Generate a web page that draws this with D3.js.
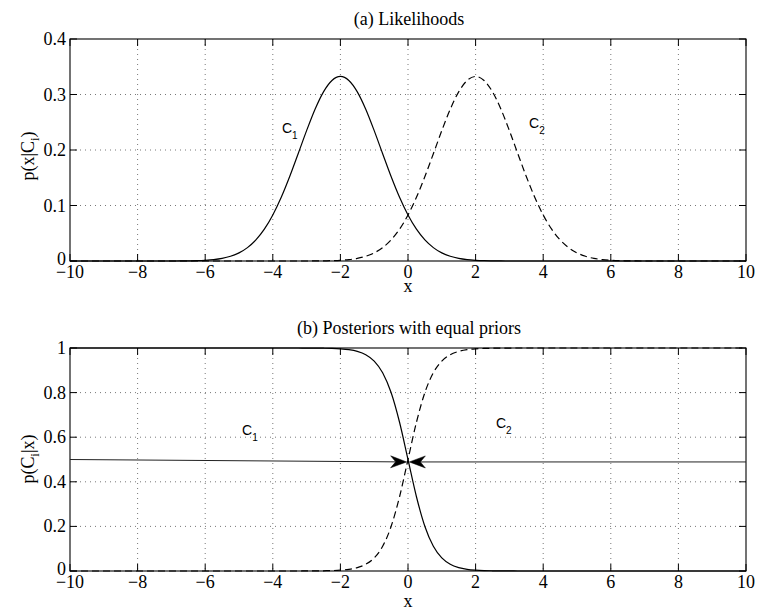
<!DOCTYPE html>
<html>
<head>
<meta charset="utf-8">
<script src="https://cdn.jsdelivr.net/npm/d3@7"></script>
<style>
html,body{margin:0;padding:0;background:#fff;}
svg{display:block;}
</style>
</head>
<body>
<svg id="chart" width="757" height="610"></svg>
<script>
// ---- data ----
const xs = [-10, -9, -8, -7.5,
  -7, -6.75, -6.5, -6.25, -6, -5.75, -5.5, -5.25, -5, -4.75, -4.5, -4.25, -4, -3.75, -3.5, -3.25,
  -3, -2.75, -2.5, -2.25, -2, -1.75, -1.5, -1.25, -1, -0.75, -0.5, -0.25, 0, 0.25, 0.5, 0.75,
  1, 1.25, 1.5, 1.75, 2, 2.25, 2.5, 2.75, 3, 3.25, 3.5, 3.75, 4, 4.25, 4.5, 4.75, 5, 5.25, 5.5, 5.75,
  6, 6.25, 6.5, 6.75, 7,
  7.5, 8, 9, 10];

const likelihoodC1 = [0, 0, 0, 0, 0,
  0.0001, 0.0003, 0.0006, 0.0013, 0.0025, 0.0047, 0.0085, 0.0146, 0.0241, 0.0380, 0.0573, 0.0829,
  0.1148, 0.1522, 0.1933, 0.2349, 0.2735, 0.3048, 0.3253, 0.3325, 0.3253, 0.3048, 0.2735, 0.2349,
  0.1933, 0.1522, 0.1148, 0.0829, 0.0573, 0.0380, 0.0241, 0.0146, 0.0085, 0.0047, 0.0025, 0.0013,
  0.0006, 0.0003, 0.0001,
  0, 0, 0, 0, 0, 0, 0, 0, 0, 0, 0, 0, 0, 0, 0, 0, 0, 0, 0, 0, 0];

const likelihoodC2 = [0, 0, 0, 0, 0, 0, 0, 0, 0, 0, 0, 0, 0, 0, 0, 0, 0, 0, 0, 0, 0,
  0.0001, 0.0003, 0.0006, 0.0013, 0.0025, 0.0047, 0.0085, 0.0146, 0.0241, 0.0380, 0.0573, 0.0829,
  0.1148, 0.1522, 0.1933, 0.2349, 0.2735, 0.3048, 0.3253, 0.3325, 0.3253, 0.3048, 0.2735, 0.2349,
  0.1933, 0.1522, 0.1148, 0.0829, 0.0573, 0.0380, 0.0241, 0.0146, 0.0085, 0.0047, 0.0025, 0.0013,
  0.0006, 0.0003, 0.0001,
  0, 0, 0, 0, 0];

const posteriorC1 = [1, 1, 1, 1, 1, 1, 1, 1, 1, 1, 1, 1, 1, 1, 1, 1, 1, 1,
  0.9999, 0.9999, 0.9998, 0.9995, 0.9990, 0.9981, 0.9961, 0.9923, 0.9847, 0.9699, 0.9415, 0.8893,
  0.8004, 0.6670, 0.5000, 0.3330, 0.1996, 0.1107, 0.0585, 0.0301, 0.0153, 0.0077, 0.0039, 0.0019,
  0.0010, 0.0005, 0.0002, 0.0001, 0.0001,
  0, 0, 0, 0, 0, 0, 0, 0, 0, 0, 0, 0, 0, 0, 0, 0, 0, 0];

const posteriorC2 = [0, 0, 0, 0, 0, 0, 0, 0, 0, 0, 0, 0, 0, 0, 0, 0, 0, 0,
  0.0001, 0.0001, 0.0002, 0.0005, 0.0010, 0.0019, 0.0039, 0.0077, 0.0153, 0.0301, 0.0585, 0.1107,
  0.1996, 0.3330, 0.5000, 0.6670, 0.8004, 0.8893, 0.9415, 0.9699, 0.9847, 0.9923, 0.9961, 0.9981,
  0.9990, 0.9995, 0.9998, 0.9999, 0.9999,
  1, 1, 1, 1, 1, 1, 1, 1, 1, 1, 1, 1, 1, 1, 1, 1, 1, 1];

const xTicks = [-10, -8, -6, -4, -2, 0, 2, 4, 6, 8, 10];
const xTickLabels = ["\u221210", "\u22128", "\u22126", "\u22124", "\u22122", "0", "2", "4", "6", "8", "10"];
const yTicksTop = [0, 0.1, 0.2, 0.3, 0.4];
const yTickLabelsTop = ["0", "0.1", "0.2", "0.3", "0.4"];
const yTicksBottom = [0, 0.2, 0.4, 0.6, 0.8, 1];
const yTickLabelsBottom = ["0", "0.2", "0.4", "0.6", "0.8", "1"];

const titles = ["(a) Likelihoods", "(b) Posteriors with equal priors"];
const yLabels = [["p(x|C", "i", ")"], ["p(C", "i", "|x)"]];
const xLabel = "x";

// class labels: [panel, x, y, main, subscript]
const classLabels = [
  [0, -3.73, 0.2306, "C", "1"],
  [0, 3.58, 0.2396, "C", "2"],
  [1, -4.91, 0.61, "C", "1"],
  [1, 2.60, 0.641, "C", "2"]
];

// decision arrows in bottom panel: from [x,y] to [x,y]
const arrows = [
  {from: [-10, 0.5], to: [-0.04, 0.489]},
  {from: [10, 0.489], to: [0.04, 0.489]}
];

// ---- layout ----
const svg = d3.select("#chart");
const left = 70, right = 746;
const panels = [
  {top: 39, bottom: 261, domain: [0, 0.4], yTicks: yTicksTop, yLabels: yTickLabelsTop,
   series: [{v: likelihoodC1, dash: null}, {v: likelihoodC2, dash: "7,4"}], ylabelY: 156, xlabelY: 292},
  {top: 348, bottom: 571, domain: [0, 1], yTicks: yTicksBottom, yLabels: yTickLabelsBottom,
   series: [{v: posteriorC1, dash: null}, {v: posteriorC2, dash: "7,4"}], ylabelY: 459, xlabelY: 607}
];

const serif = "'Liberation Serif', 'Times New Roman', serif";
const sans = "'Liberation Sans', Arial, sans-serif";
const fs = 18;
const tickLen = 7;

panels.forEach((p, pi) => {
  const x = d3.scaleLinear().domain([-10, 10]).range([left, right]);
  const y = d3.scaleLinear().domain(p.domain).range([p.bottom, p.top]);
  p.x = x; p.y = y;
  const g = svg.append("g");

  // grid
  g.selectAll(".vgrid").data(xTicks.slice(1, -1)).enter().append("line")
    .attr("x1", d => x(d)).attr("x2", d => x(d))
    .attr("y1", p.top).attr("y2", p.bottom)
    .attr("stroke", "#555").attr("stroke-width", 0.8).attr("stroke-dasharray", "1,4");
  g.selectAll(".hgrid").data(p.yTicks.slice(1, -1)).enter().append("line")
    .attr("y1", d => y(d)).attr("y2", d => y(d))
    .attr("x1", left).attr("x2", right)
    .attr("stroke", "#555").attr("stroke-width", 0.8).attr("stroke-dasharray", "1,4");

  // curves
  const line = d3.line().x((d, i) => x(xs[i])).y(d => y(d)).curve(d3.curveMonotoneX);
  p.series.forEach(s => {
    g.append("path").attr("d", line(s.v))
      .attr("fill", "none").attr("stroke", "#000").attr("stroke-width", 1.2)
      .attr("stroke-dasharray", s.dash);
  });

  // frame
  g.append("rect").attr("x", left).attr("y", p.top)
    .attr("width", right - left).attr("height", p.bottom - p.top)
    .attr("fill", "none").attr("stroke", "#000").attr("stroke-width", 1.1);

  // ticks (inward, both sides)
  xTicks.forEach(t => {
    g.append("line").attr("x1", x(t)).attr("x2", x(t)).attr("y1", p.bottom).attr("y2", p.bottom - tickLen)
      .attr("stroke", "#000").attr("stroke-width", 1);
    g.append("line").attr("x1", x(t)).attr("x2", x(t)).attr("y1", p.top).attr("y2", p.top + tickLen)
      .attr("stroke", "#000").attr("stroke-width", 1);
  });
  p.yTicks.forEach(t => {
    g.append("line").attr("y1", y(t)).attr("y2", y(t)).attr("x1", left).attr("x2", left + tickLen)
      .attr("stroke", "#000").attr("stroke-width", 1);
    g.append("line").attr("y1", y(t)).attr("y2", y(t)).attr("x1", right).attr("x2", right - tickLen)
      .attr("stroke", "#000").attr("stroke-width", 1);
  });

  // tick labels
  g.selectAll(".xtl").data(xTicks).enter().append("text")
    .attr("x", d => x(d)).attr("y", p.bottom + 17)
    .attr("text-anchor", "middle").attr("font-family", serif).attr("font-size", fs)
    .text((d, i) => xTickLabels[i]);
  g.selectAll(".ytl").data(p.yTicks).enter().append("text")
    .attr("x", left - 4).attr("y", d => y(d) + (d === p.domain[0] ? 4 : 6))
    .attr("text-anchor", "end").attr("font-family", serif).attr("font-size", fs)
    .text((d, i) => p.yLabels[i]);

  // title
  g.append("text").attr("x", (left + right) / 2 + 1).attr("y", p.top - 14)
    .attr("text-anchor", "middle").attr("font-family", serif).attr("font-size", fs)
    .text(titles[pi]);

  // x label
  g.append("text").attr("x", (left + right) / 2).attr("y", p.xlabelY)
    .attr("text-anchor", "middle").attr("font-family", serif).attr("font-size", fs)
    .text(xLabel);

  // y label
  const yl = g.append("text")
    .attr("transform", `translate(34,${p.ylabelY}) rotate(-90)`)
    .attr("text-anchor", "middle").attr("font-family", serif).attr("font-size", fs);
  const parts = yLabels[pi];
  yl.append("tspan").text(parts[0]);
  yl.append("tspan").attr("font-size", 13).attr("dy", 5).text(parts[1]);
  yl.append("tspan").attr("dy", -5).text(parts[2]);
});

// class labels
classLabels.forEach(([pi, cx, cy, main, sub]) => {
  const p = panels[pi];
  const t = svg.append("text").attr("x", p.x(cx)).attr("y", p.y(cy))
    .attr("font-family", sans).attr("font-size", 14).attr("fill", "#000");
  t.append("tspan").text(main);
  t.append("tspan").attr("font-size", 10).attr("dy", 6).text(sub);
});

// arrows
const pb = panels[1];
arrows.forEach(a => {
  const x1 = pb.x(a.from[0]), y1 = pb.y(a.from[1]);
  const x2 = pb.x(a.to[0]), y2 = pb.y(a.to[1]);
  const ang = Math.atan2(y2 - y1, x2 - x1);
  const L = 16, Wd = 6, notch = 11;
  svg.append("line").attr("x1", x1).attr("y1", y1)
    .attr("x2", x2 - Math.cos(ang) * notch).attr("y2", y2 - Math.sin(ang) * notch)
    .attr("stroke", "#222").attr("stroke-width", 1);
  const ca = Math.cos(ang), sa = Math.sin(ang);
  const pt = (along, perp) => [x2 - ca * along - sa * perp, y2 - sa * along + ca * perp];
  const pts = [pt(0, 0), pt(L, Wd), pt(notch, 0), pt(L, -Wd)];
  svg.append("path").attr("d", "M" + pts.map(q => q.join(",")).join("L") + "Z")
    .attr("fill", "#000").attr("stroke", "#000").attr("stroke-width", 0.5);
});
</script>
</body>
</html>
